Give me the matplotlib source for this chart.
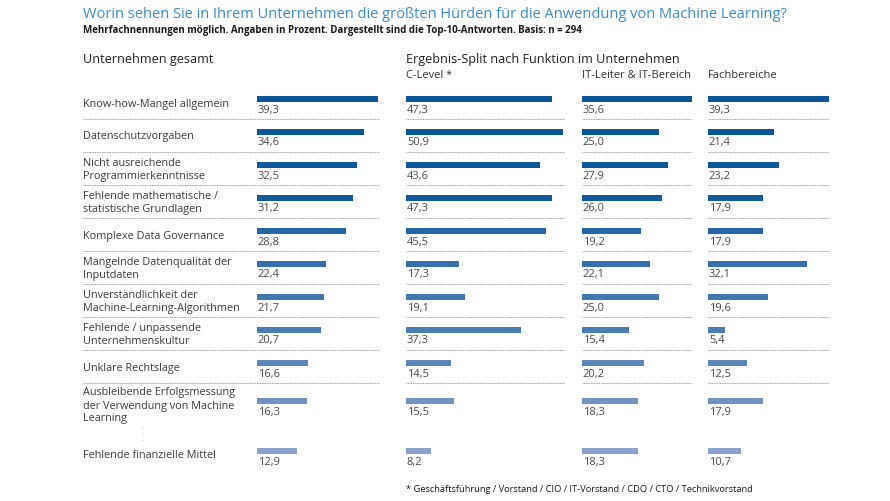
import matplotlib
matplotlib.use("Agg")
import matplotlib.pyplot as plt
from matplotlib.colors import to_hex, LinearSegmentedColormap

# ---------------- data ----------------
categories = [
    "Know-how-Mangel allgemein",
    "Datenschutzvorgaben",
    "Nicht ausreichende\nProgrammierkenntnisse",
    "Fehlende mathematische /\nstatistische Grundlagen",
    "Komplexe Data Governance",
    "Mangelnde Datenqualität der\nInputdaten",
    "Unverständlichkeit der\nMachine-Learning-Algorithmen",
    "Fehlende / unpassende\nUnternehmenskultur",
    "Unklare Rechtslage",
    "Ausbleibende Erfolgsmessung\nder Verwendung von Machine\nLearning",
    "Fehlende finanzielle Mittel",
]
gesamt = [39.3, 34.6, 32.5, 31.2, 28.8, 22.4, 21.7, 20.7, 16.6, 16.3, 12.9]
c_level = [47.3, 50.9, 43.6, 47.3, 45.5, 17.3, 19.1, 37.3, 14.5, 15.5, 8.2]
it_bereich = [35.6, 25.0, 27.9, 26.0, 19.2, 22.1, 25.0, 15.4, 20.2, 18.3, 18.3]
fachbereiche = [39.3, 21.4, 23.2, 17.9, 17.9, 32.1, 19.6, 5.4, 12.5, 17.9, 10.7]

title = "Worin sehen Sie in Ihrem Unternehmen die größten Hürden für die Anwendung von Machine Learning?"
subtitle = "Mehrfachnennungen möglich. Angaben in Prozent. Dargestellt sind die Top-10-Antworten. Basis: n = 294"
head_left = "Unternehmen gesamt"
head_right = "Ergebnis-Split nach Funktion im Unternehmen"
panel_titles = ["C-Level *", "IT-Leiter & IT-Bereich", "Fachbereiche"]
footnote = "* Geschäftsführung / Vorstand / CIO / IT-Vorstand / CDO / CTO / Technikvorstand"

# ---------------- layout ----------------
W, H = 890, 501
FONT = ["Open Sans", "DejaVu Sans"]
plt.rcParams["font.family"] = FONT

fig = plt.figure(figsize=(W / 100, H / 100), dpi=100)
fig.patch.set_facecolor("white")

PX_PER_UNIT = 3.08
n = len(categories)
# row centre positions (pixel rows): regular spacing, with extra room for the
# three-line label and the ellipsis before the last row
row_y = [99 + 33 * i for i in range(9)] + [401, 451]

cmap = LinearSegmentedColormap.from_list(
    "rows", ["#0b5797", "#0d5a99", "#2f6ca8", "#4a7db3", "#6a8dbd", "#8aa3cc"])
stops = [0.0, 0.04, 0.08, 0.22, 0.33, 0.45, 0.53, 0.6, 0.72, 0.85, 1.0]
row_colors = [to_hex(cmap(s)) for s in stops]

LABEL_C = "#3d3d3d"
VALUE_C = "#4a4a4a"
SEP_C = "#7a7a7a"


def fx(px):
    return px / W


def fy(py):
    return 1 - py / H


def make_panel(left_px, zero_px, right_px):
    ax = fig.add_axes([fx(left_px), 0, fx(right_px - left_px), 1])
    ax.set_xlim(-(zero_px - left_px) / PX_PER_UNIT, (right_px - zero_px) / PX_PER_UNIT)
    ax.set_ylim(H, 0)
    ax.axis("off")
    return ax


def draw_bars(ax, values):
    ax.barh(row_y, values, height=5.5, left=0, color=row_colors, linewidth=0)
    for y, v in zip(row_y, values):
        ax.text(0.3, y + 11, f"{v:.1f}".replace(".", ","), ha="left", va="center",
                fontsize=8, color=VALUE_C)
    x0, x1 = ax.get_xlim()
    for y in row_y[:9]:
        ax.plot([x0, x1], [y + 20, y + 20], color=SEP_C, lw=0.6,
                linestyle=(0, (1, 1)), solid_capstyle="butt")


# Total panel (labels + bars)
ax_tot = make_panel(83, 257, 380)
draw_bars(ax_tot, gesamt)
xl = ax_tot.get_xlim()[0]
for y, lab in zip(row_y, categories):
    ax_tot.text(xl, y + 5, lab, ha="left", va="center", fontsize=7.8,
                color=LABEL_C, linespacing=1.25)
ax_tot.text(xl + (142 - 83) / PX_PER_UNIT, 435, "·\n·\n·", ha="center", va="center",
            fontsize=5, color="#888888", linespacing=0.9)

for (l, r), vals in zip([(406, 565), (582, 692), (708, 829)],
                        [c_level, it_bereich, fachbereiche]):
    ax = make_panel(l, l, r)
    draw_bars(ax, vals)

# Texts
fig.text(fx(83), fy(14), title, ha="left", va="center", fontsize=10.5,
         color="#3d8dc6")
fig.text(fx(83), fy(31), subtitle, ha="left", va="center", fontsize=7,
         fontweight="bold", color="#1a1a1a")
fig.text(fx(83), fy(59), head_left, ha="left", va="center", fontsize=9.1,
         color="#222222")
fig.text(fx(406), fy(59), head_right, ha="left", va="center", fontsize=9.1,
         color="#222222")
for x, t in zip([406, 582, 708], panel_titles):
    fig.text(fx(x), fy(76), t, ha="left", va="center", fontsize=8, color="#333333")
fig.text(fx(406), fy(490), footnote, ha="left", va="center", fontsize=6.7,
         color="#1a1a1a")

fig.savefig("out.png", dpi=100, facecolor="white")
